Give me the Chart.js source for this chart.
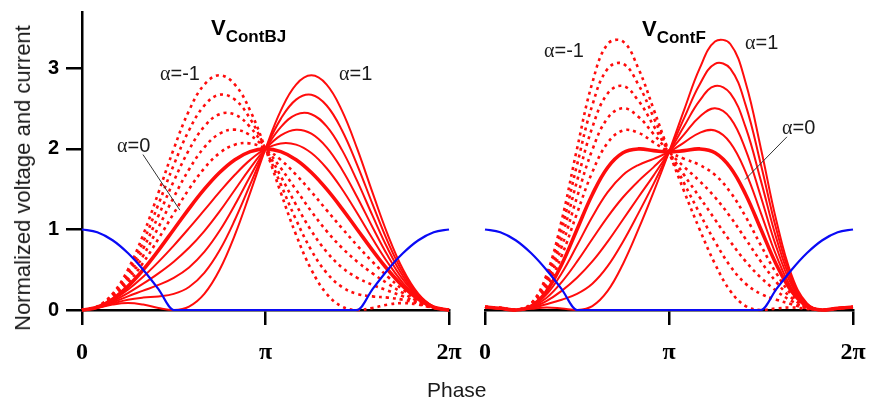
<!DOCTYPE html>
<html>
<head>
<meta charset="utf-8">
<script src="https://cdn.jsdelivr.net/npm/chart.js@4.4.1/dist/chart.umd.min.js"></script>
<style>
  html, body { margin: 0; padding: 0; background: #fff; }
  #wrap { position: relative; width: 869px; height: 400px; overflow: hidden; font-family: "Liberation Sans", Arial, sans-serif; color: #1a1a1a; }
  .panel { position: absolute; top: 0; height: 400px; }
  #bjPanel { left: 0; width: 465px; }
  #fPanel { left: 462px; width: 407px; }
  .txt { position: absolute; white-space: nowrap; line-height: 1; }
  .title { font-weight: bold; font-size: 22px; color: #000; }
  .title span { font-size: 17px; vertical-align: -7px; }
  .alpha { font-size: 20px; }
  .alpha i { font-family: "Liberation Serif", serif; font-style: normal; }
  #yTitle { left: 23px; top: 178px; font-size: 22px; transform: translate(-50%, -50%) rotate(-90deg); }
  #xTitle { left: 427px; top: 379px; font-size: 21px; }
</style>
</head>
<body>
<div id="wrap">
  <div class="panel" id="bjPanel"><canvas id="bjChart"></canvas></div>
  <div class="panel" id="fPanel"><canvas id="fChart"></canvas></div>

  <div class="txt title" style="left:211px; top:17px;">V<span>ContBJ</span></div>
  <div class="txt title" style="left:642px; top:18px;">V<span>ContF</span></div>

  <div class="txt alpha" style="left:160px; top:63px;"><i>α</i>=-1</div>
  <div class="txt alpha" style="left:339px; top:63px;"><i>α</i>=1</div>
  <div class="txt alpha" style="left:117px; top:135px;"><i>α</i>=0</div>
  <div class="txt alpha" style="left:544px; top:40px;"><i>α</i>=-1</div>
  <div class="txt alpha" style="left:745px; top:32px;"><i>α</i>=1</div>
  <div class="txt alpha" style="left:782px; top:117px;"><i>α</i>=0</div>

  <div class="txt" id="yTitle">Normalized voltage and current</div>
  <div class="txt" id="xTitle">Phase</div>
</div>

<script>
// phase in degrees, 15 degree steps
const phase = [0, 15, 30, 45, 60, 75, 90, 105, 120, 135, 150, 165, 180,
               195, 210, 225, 240, 255, 270, 285, 300, 315, 330, 345, 360];
const phaseTicks = [0, 180, 360];
const phaseLabels = ["0", "π", "2π"];
const voltTicks = [0, 1, 2, 3];

// drain current (half-wave rectified)
const current = [1, 0.966, 0.866, 0.707, 0.5, 0.259, 0, 0, 0, 0, 0, 0, 0,
                 0, 0, 0, 0, 0, 0, 0.259, 0.5, 0.707, 0.866, 0.966, 1];

// continuous class B/J voltage
const bjM10 = [0, 0.043, 0.201, 0.5, 0.933, 1.457, 2, 2.475, 2.799, 2.914, 2.799, 2.475, 2, 1.457, 0.933, 0.5, 0.201, 0.043, 0, 0.025, 0.067, 0.086, 0.067, 0.025, 0];
const bjM08 = [0, 0.041, 0.188, 0.459, 0.846, 1.314, 1.8, 2.232, 2.539, 2.673, 2.612, 2.373, 2, 1.559, 1.120, 0.741, 0.461, 0.286, 0.2, 0.169, 0.154, 0.127, 0.080, 0.027, 0];
const bjM06 = [0, 0.039, 0.174, 0.417, 0.760, 1.171, 1.6, 1.988, 2.279, 2.431, 2.426, 2.271, 2, 1.661, 1.306, 0.983, 0.721, 0.529, 0.4, 0.312, 0.240, 0.169, 0.094, 0.029, 0];
const bjM04 = [0, 0.038, 0.161, 0.376, 0.673, 1.028, 1.4, 1.745, 2.020, 2.190, 2.239, 2.169, 2, 1.762, 1.493, 1.224, 0.980, 0.772, 0.6, 0.455, 0.327, 0.210, 0.107, 0.031, 0];
const bjM02 = [0, 0.036, 0.147, 0.334, 0.587, 0.884, 1.2, 1.502, 1.760, 1.949, 2.053, 2.068, 2, 1.864, 1.679, 1.466, 1.240, 1.016, 0.8, 0.598, 0.413, 0.252, 0.121, 0.032, 0];
const bj0   = [0, 0.034, 0.134, 0.293, 0.5, 0.741, 1, 1.259, 1.5, 1.707, 1.866, 1.966, 2, 1.966, 1.866, 1.707, 1.5, 1.259, 1, 0.741, 0.5, 0.293, 0.134, 0.034, 0];
const bjP02 = [0, 0.032, 0.121, 0.252, 0.413, 0.598, 0.8, 1.016, 1.240, 1.466, 1.679, 1.864, 2, 2.068, 2.053, 1.949, 1.760, 1.502, 1.2, 0.884, 0.587, 0.334, 0.147, 0.036, 0];
const bjP04 = [0, 0.031, 0.107, 0.210, 0.327, 0.455, 0.6, 0.772, 0.980, 1.224, 1.493, 1.762, 2, 2.169, 2.239, 2.190, 2.020, 1.745, 1.4, 1.028, 0.673, 0.376, 0.161, 0.038, 0];
const bjP06 = [0, 0.029, 0.094, 0.169, 0.240, 0.312, 0.4, 0.529, 0.721, 0.983, 1.306, 1.661, 2, 2.271, 2.426, 2.431, 2.279, 1.988, 1.6, 1.171, 0.760, 0.417, 0.174, 0.039, 0];
const bjP08 = [0, 0.027, 0.080, 0.127, 0.154, 0.169, 0.2, 0.286, 0.461, 0.741, 1.120, 1.559, 2, 2.373, 2.612, 2.673, 2.539, 2.232, 1.8, 1.314, 0.846, 0.459, 0.188, 0.041, 0];
const bjP10 = [0, 0.025, 0.067, 0.086, 0.067, 0.025, 0, 0.043, 0.201, 0.5, 0.933, 1.457, 2, 2.475, 2.799, 2.914, 2.799, 2.475, 2, 1.457, 0.933, 0.5, 0.201, 0.043, 0];

// continuous class F voltage
const fM10 = [0.038, 0.026, 0, 0.081, 0.430, 1.111, 2.0, 2.821, 3.303, 3.333, 3.0, 2.491, 1.962, 1.467, 1.0, 0.572, 0.237, 0.049, 0, 0.019, 0.031, 0.014, 0, 0.015, 0.038];
const fM08 = [0.038, 0.025, 0, 0.074, 0.390, 1.002, 1.8, 2.544, 2.996, 3.057, 2.8, 2.389, 1.962, 1.569, 1.2, 0.848, 0.544, 0.326, 0.2, 0.128, 0.071, 0.021, 0, 0.017, 0.038];
const fM06 = [0.038, 0.024, 0, 0.068, 0.350, 0.892, 1.6, 2.267, 2.689, 2.781, 2.6, 2.287, 1.962, 1.672, 1.4, 1.124, 0.850, 0.603, 0.4, 0.238, 0.111, 0.027, 0, 0.018, 0.038];
const fM04 = [0.038, 0.023, 0, 0.061, 0.310, 0.783, 1.4, 1.989, 2.383, 2.505, 2.4, 2.184, 1.962, 1.774, 1.6, 1.400, 1.157, 0.881, 0.6, 0.347, 0.150, 0.034, 0, 0.019, 0.038];
const fM02 = [0.038, 0.022, 0, 0.054, 0.270, 0.674, 1.2, 1.712, 2.076, 2.229, 2.2, 2.082, 1.962, 1.877, 1.8, 1.677, 1.463, 1.158, 0.8, 0.456, 0.190, 0.041, 0, 0.020, 0.038];
const f0   = [0.038, 0.021, 0, 0.047, 0.230, 0.565, 1, 1.435, 1.770, 1.953, 2.0, 1.979, 1.962, 1.979, 2.0, 1.953, 1.770, 1.435, 1, 0.565, 0.230, 0.047, 0, 0.021, 0.038];
const fP02 = [0.038, 0.020, 0, 0.041, 0.190, 0.456, 0.8, 1.158, 1.463, 1.677, 1.8, 1.877, 1.962, 2.082, 2.2, 2.229, 2.076, 1.712, 1.2, 0.674, 0.270, 0.054, 0, 0.022, 0.038];
const fP04 = [0.038, 0.019, 0, 0.034, 0.150, 0.347, 0.6, 0.881, 1.157, 1.400, 1.6, 1.774, 1.962, 2.184, 2.4, 2.505, 2.383, 1.989, 1.4, 0.783, 0.310, 0.061, 0, 0.023, 0.038];
const fP06 = [0.038, 0.018, 0, 0.027, 0.111, 0.238, 0.4, 0.603, 0.850, 1.124, 1.4, 1.672, 1.962, 2.287, 2.6, 2.781, 2.689, 2.267, 1.6, 0.892, 0.350, 0.068, 0, 0.024, 0.038];
const fP08 = [0.038, 0.017, 0, 0.021, 0.071, 0.128, 0.2, 0.326, 0.544, 0.848, 1.2, 1.569, 1.962, 2.389, 2.8, 3.057, 2.996, 2.544, 1.8, 1.002, 0.390, 0.074, 0, 0.025, 0.038];
const fP10 = [0.038, 0.015, 0, 0.014, 0.031, 0.019, 0, 0.049, 0.237, 0.572, 1.0, 1.467, 1.962, 2.491, 3.0, 3.333, 3.303, 2.821, 2.0, 1.111, 0.430, 0.081, 0, 0.026, 0.038];

const alphas = [-1, -0.8, -0.6, -0.4, -0.2, 0, 0.2, 0.4, 0.6, 0.8, 1];
const bjSeries = [bjM10, bjM08, bjM06, bjM04, bjM02, bj0, bjP02, bjP04, bjP06, bjP08, bjP10];
const fSeries = [fM10, fM08, fM06, fM04, fM02, f0, fP02, fP04, fP06, fP08, fP10];

// pointer lines for the alpha=0 labels, [x0, y0, x1, y1] in data units
const bjPointer = [59.8, 1.93, 96, 1.24];
const fPointer = [295.4, 2.15, 254.4, 1.62];

const RED = "rgb(255, 12, 12)";
const BLUE = "rgb(10, 10, 245)";

function toPoints(values) {
  return values.map((v, i) => ({ x: phase[i], y: v }));
}

function voltageSet(alpha, values) {
  return {
    label: "α=" + alpha,
    data: toPoints(values),
    borderColor: RED,
    borderWidth: alpha === 0 ? 3.6 : (alpha < 0 ? 2.6 : 2),
    borderDash: alpha < 0 ? [3, 4] : [],
    tension: 0.4,
    pointRadius: 0,
    clip: 6,
    order: alpha === 0 ? 1 : 2
  };
}

const pointerPlugin = {
  id: "pointer",
  afterDatasetsDraw(chart, args, opts) {
    const p = opts.line;
    if (!p) return;
    const { ctx, scales: { x, y } } = chart;
    ctx.save();
    ctx.strokeStyle = "#333";
    ctx.lineWidth = 1;
    ctx.beginPath();
    ctx.moveTo(x.getPixelForValue(p[0]), y.getPixelForValue(p[1]));
    ctx.lineTo(x.getPixelForValue(p[2]), y.getPixelForValue(p[3]));
    ctx.stroke();
    ctx.restore();
  }
};

function makeChart(id, series, pointer, showY, padLeft) {
  const datasets = [{
    label: "current",
    data: toPoints(current),
    borderColor: BLUE,
    borderWidth: 2.2,
    cubicInterpolationMode: "monotone",
    pointRadius: 0,
    clip: 6,
    order: 0
  }];
  series.forEach((values, i) => datasets.push(voltageSet(alphas[i], values)));

  return new Chart(document.getElementById(id), {
    type: "line",
    data: { datasets },
    plugins: [pointerPlugin],
    options: {
      responsive: true,
      maintainAspectRatio: false,
      animation: false,
      events: [],
      layout: { padding: { left: padLeft, right: 16, top: 12, bottom: 0 } },
      plugins: {
        legend: { display: false },
        tooltip: { enabled: false },
        pointer: { line: pointer }
      },
      scales: {
        x: {
          type: "linear",
          min: 0,
          max: 360,
          afterBuildTicks: s => { s.ticks = phaseTicks.map(v => ({ value: v })); },
          afterFit: s => {
            s.height = 90;
            s.paddingLeft = 0;
            s.paddingRight = 0;
          },
          ticks: {
            autoSkip: false,
            maxRotation: 0,
            padding: 13,
            color: "#000",
            font: { family: "Liberation Serif", size: 24, weight: "bold" },
            callback: v => phaseLabels[phaseTicks.indexOf(v)]
          },
          grid: { drawOnChartArea: false, tickLength: 15, color: "#000", lineWidth: 2.5 },
          border: { color: "#000", width: 2.5 }
        },
        y: {
          display: showY,
          min: 0,
          max: 3.7,
          afterBuildTicks: s => { s.ticks = voltTicks.map(v => ({ value: v })); },
          afterFit: s => {
            s.width = showY ? 82 : 0;
            s.paddingTop = 0;
            s.paddingBottom = 0;
          },
          ticks: {
            padding: 7,
            color: "#000",
            font: { family: "Liberation Sans", size: 20, weight: "bold" }
          },
          grid: { drawOnChartArea: false, tickLength: 16, color: "#000", lineWidth: 2.5 },
          border: { color: "#000", width: 2.5 }
        }
      }
    }
  });
}

makeChart("bjChart", bjSeries, bjPointer, true, 0);
makeChart("fChart", fSeries, fPointer, false, 23);
</script>
</body>
</html>
